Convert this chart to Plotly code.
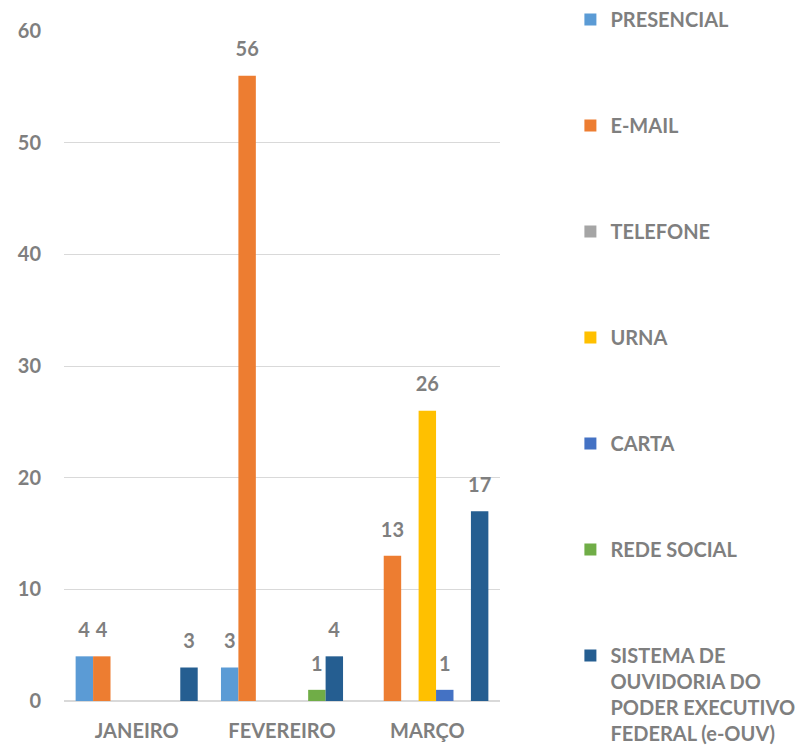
import plotly.graph_objects as go

# Monthly counts of manifestations by channel
months = ["JANEIRO", "FEVEREIRO", "MARÇO"]
channels = [
    "PRESENCIAL",
    "E-MAIL",
    "TELEFONE",
    "URNA",
    "CARTA",
    "REDE SOCIAL",
    "SISTEMA DE<br>OUVIDORIA DO<br>PODER EXECUTIVO<br>FEDERAL (e-OUV)",
]
presencial = [4, 3, 0]
email = [4, 56, 13]
telefone = [0, 0, 0]
urna = [0, 0, 26]
carta = [0, 0, 1]
rede_social = [0, 1, 0]
sistema = [3, 4, 17]

series = [presencial, email, telefone, urna, carta, rede_social, sistema]
colors = ["#5b9bd5", "#ed7d31", "#a5a5a5", "#ffc000", "#4472c4", "#70ad47", "#255e91"]

FONT = "Lato"
GREY = "#7f7f7f"

fig = go.Figure()
for i, (name, vals, col) in enumerate(zip(channels, series, colors)):
    fig.add_trace(go.Bar(
        x=months,
        y=vals,
        name=name,
        legendgroup=f"g{i}",
        marker=dict(color=col, line=dict(width=0)),
        text=[str(v) if v else "" for v in vals],
        # value label with a small blank line underneath to lift it off the bar
        texttemplate="<span style='font-size:20px'>%{text}</span><br> ",
        textposition="outside",
        constraintext="none",
        textfont=dict(family=FONT, size=11, color=GREY, weight="bold"),
        cliponaxis=False,
    ))

fig.update_layout(
    width=800,
    height=754,
    barmode="group",
    bargap=0.16,
    bargroupgap=0,
    plot_bgcolor="white",
    paper_bgcolor="white",
    margin=dict(l=64, r=300, t=31, b=51),
    font=dict(family=FONT, size=20, color=GREY),
    legend=dict(
        xref="container",
        yref="container",
        x=0.713,
        y=1.0,
        xanchor="left",
        yanchor="top",
        traceorder="grouped",
        tracegroupgap=77,
        valign="top",
        maxheight=760,
        font=dict(family=FONT, size=20, color=GREY, weight="bold"),
        itemwidth=30,
    ),
    xaxis=dict(
        showline=False,
        ticks="",
        tickfont=dict(family=FONT, size=20, color=GREY, weight="bold"),
        ticklabelstandoff=16,
    ),
    yaxis=dict(
        range=[0, 60],
        dtick=10,
        showgrid=True,
        gridcolor="#d9d9d9",
        gridwidth=1,
        zeroline=True,
        zerolinecolor="#d9d9d9",
        zerolinewidth=2,
        showline=False,
        ticks="",
        tickfont=dict(family=FONT, size=20, color=GREY, weight="bold"),
        ticklabelstandoff=22,
    ),
)

fig.write_html("out.html")
